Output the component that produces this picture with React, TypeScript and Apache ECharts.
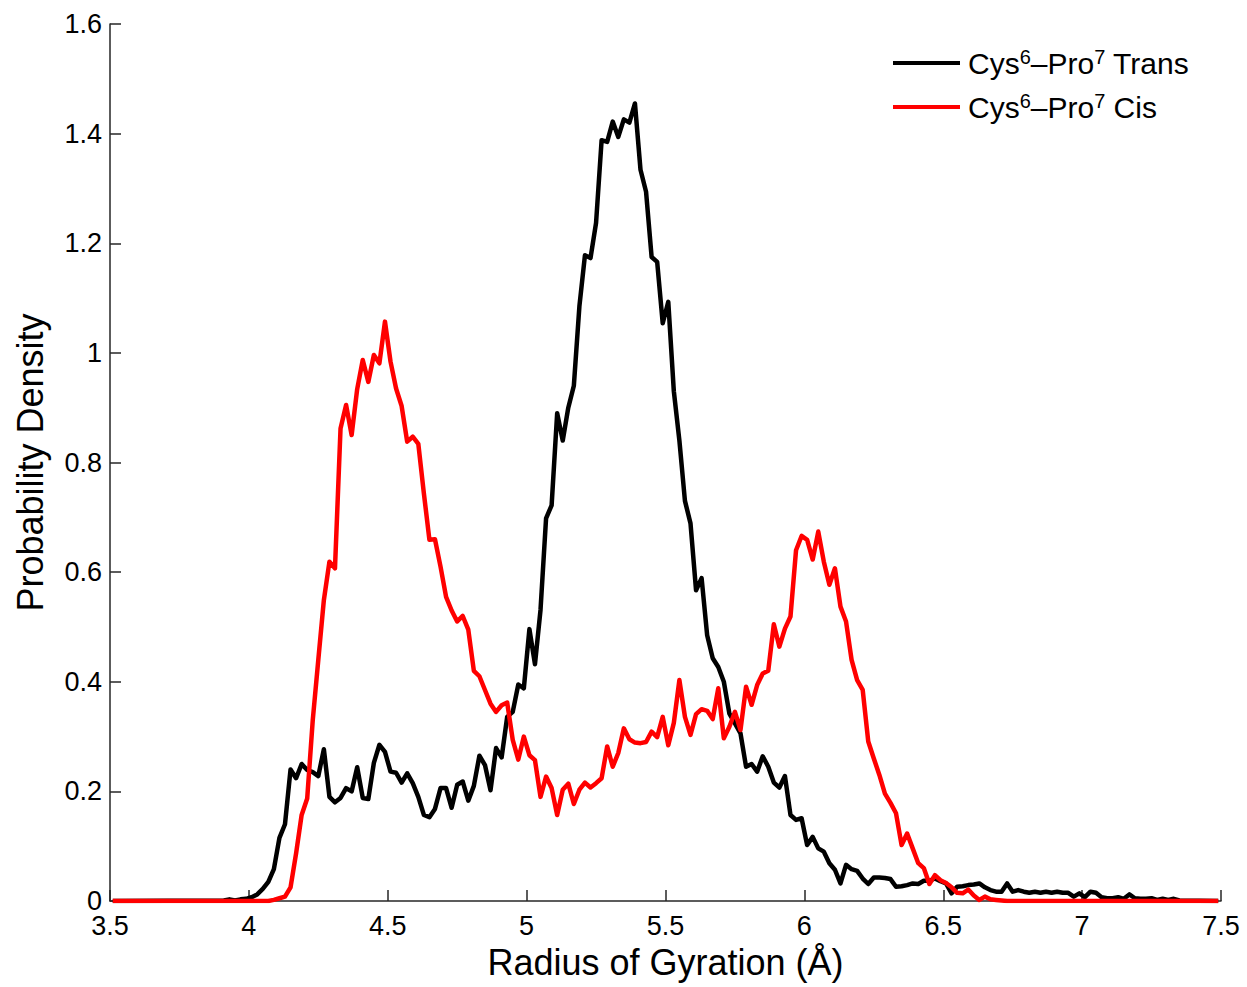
import React, { useEffect, useRef } from "react";
import * as echarts from "echarts";

// Bin centres: first value of each list sits at its start x, step 0.02 Å
const BIN_STEP = 0.02;
const X_MIN = 3.5;
const X_MAX = 7.5;
const X_TICKS = [3.5, 4, 4.5, 5, 5.5, 6, 6.5, 7, 7.5];
const Y_TICKS = [0, 0.2, 0.4, 0.6, 0.8, 1, 1.2, 1.4, 1.6];

const transStart = 3.91;
const transValues = [
  0.001, 0.003, 0.001, 0.003, 0.004, 0.007, 0.012, 0.022, 0.035, 0.058,
  0.115, 0.14, 0.24, 0.224, 0.25, 0.239, 0.235, 0.228, 0.277, 0.19,
  0.18, 0.188, 0.206, 0.2, 0.244, 0.188, 0.186, 0.252, 0.285, 0.272,
  0.236, 0.234, 0.216, 0.233, 0.215, 0.19, 0.157, 0.153, 0.168, 0.206,
  0.206, 0.17, 0.212, 0.218, 0.183, 0.21, 0.265, 0.248, 0.202, 0.279,
  0.262, 0.336, 0.345, 0.395, 0.388, 0.496, 0.432, 0.531, 0.698, 0.722,
  0.89, 0.84, 0.9, 0.94, 1.085, 1.178, 1.173, 1.237, 1.388, 1.385,
  1.422, 1.394, 1.426, 1.42, 1.455, 1.334, 1.294, 1.175, 1.166, 1.054,
  1.093, 0.93, 0.84, 0.73, 0.689, 0.567, 0.589, 0.485, 0.443, 0.427,
  0.4, 0.342, 0.324, 0.306, 0.245, 0.25, 0.236, 0.264, 0.245, 0.216,
  0.207, 0.228, 0.157, 0.148, 0.151, 0.102, 0.117, 0.096, 0.09, 0.069,
  0.057, 0.032, 0.066, 0.058, 0.055, 0.041, 0.031, 0.043, 0.043, 0.042,
  0.04, 0.026, 0.027, 0.029, 0.032, 0.031, 0.037, 0.037, 0.041, 0.036,
  0.032, 0.014, 0.026, 0.027, 0.029, 0.03, 0.032, 0.025, 0.02, 0.017,
  0.017, 0.032, 0.017, 0.02, 0.017, 0.015, 0.017, 0.015, 0.017, 0.015,
  0.017, 0.015, 0.015, 0.008, 0.014, 0.007, 0.017, 0.015, 0.007, 0.005,
  0.005, 0.007, 0.004, 0.012, 0.005, 0.004, 0.004, 0.005, 0.002, 0.004,
  0.002, 0.004, 0.001,
];

const cisStart = 4.07;
const cisValues = [
  0, 0.002, 0.005, 0.008, 0.025, 0.087, 0.157, 0.187, 0.33, 0.44,
  0.549, 0.619, 0.607, 0.862, 0.905, 0.85, 0.934, 0.987, 0.947, 0.996,
  0.981, 1.057, 0.984, 0.935, 0.903, 0.838, 0.847, 0.834, 0.744, 0.659,
  0.66, 0.61, 0.555, 0.53, 0.51, 0.52, 0.495, 0.42, 0.41, 0.385,
  0.36, 0.345, 0.357, 0.362, 0.294, 0.258, 0.3, 0.266, 0.257, 0.19,
  0.227, 0.206, 0.157, 0.203, 0.214, 0.177, 0.203, 0.216, 0.207, 0.215,
  0.224, 0.282, 0.245, 0.27, 0.315, 0.295, 0.289, 0.288, 0.29, 0.309,
  0.299, 0.336, 0.284, 0.325, 0.403, 0.336, 0.303, 0.341, 0.35, 0.347,
  0.332, 0.388, 0.297, 0.318, 0.345, 0.312, 0.391, 0.358, 0.394, 0.415,
  0.42, 0.505, 0.464, 0.497, 0.519, 0.64, 0.666, 0.659, 0.623, 0.674,
  0.619, 0.577, 0.607, 0.537, 0.51, 0.44, 0.403, 0.385, 0.291, 0.26,
  0.23, 0.196, 0.179, 0.16, 0.102, 0.123, 0.096, 0.069, 0.06, 0.031,
  0.047, 0.038, 0.033, 0.025, 0.015, 0.014, 0.021, 0.01, 0.002, 0.008,
  0.003, 0.002, 0.001, 0,
];

const SERIES_NAMES = ["Cys6–Pro7 Trans", "Cys6–Pro7 Cis"];
const LEGEND_RICH = [
  "{a|Cys}{s|6}{a|–Pro}{s|7}{a| Trans}",
  "{a|Cys}{s|6}{a|–Pro}{s|7}{a| Cis}",
];
const X_TITLE = "Radius of Gyration (Å)";
const Y_TITLE = "Probability Density";

function toPairs(start: number, values: number[]): [number, number][] {
  const pts: [number, number][] = [[X_MIN + BIN_STEP / 2, 0]];
  values.forEach((v, i) => {
    pts.push([+(start + BIN_STEP * i).toFixed(2), v]);
  });
  pts.push([X_MAX - BIN_STEP / 2, 0]);
  return pts;
}

const FONT = "'Liberation Sans', Arial, Helvetica, sans-serif";

export default function App() {
  const ref = useRef<HTMLDivElement>(null);
  useEffect(() => {
    if (!ref.current) return;
    const chart = echarts.init(ref.current, undefined, { renderer: "svg" });
    const axisColor = "#262626";
    chart.setOption({
      animation: false,
      backgroundColor: "#ffffff",
      textStyle: { fontFamily: FONT },
      grid: { left: 110, top: 24, width: 1111, height: 877, containLabel: false },
      legend: {
        orient: "vertical",
        left: 893,
        top: 47,
        padding: 0,
        icon: "rect",
        itemWidth: 67,
        itemHeight: 4,
        itemGap: 13,
        data: SERIES_NAMES,
        formatter: (name: string) => LEGEND_RICH[SERIES_NAMES.indexOf(name)],
        textStyle: {
          fontFamily: FONT,
          color: "#000",
          padding: [0, 0, 0, 3],
          rich: {
            a: { fontSize: 30, lineHeight: 32, fontFamily: FONT, color: "#000" },
            s: { fontSize: 20, lineHeight: 20, verticalAlign: "top", fontFamily: FONT, color: "#000" },
          },
        },
      },
      xAxis: {
        type: "value",
        min: X_MIN,
        max: X_MAX,
        interval: 0.5,
        name: X_TITLE,
        nameLocation: "middle",
        nameGap: 41,
        nameTextStyle: { fontSize: 36, color: "#000", fontFamily: FONT, verticalAlign: "top" },
        axisLine: { show: true, lineStyle: { color: axisColor, width: 1.5 } },
        axisTick: { show: true, inside: true, length: 11, lineStyle: { color: axisColor, width: 1.5 } },
        axisLabel: {
          fontSize: 27,
          lineHeight: 22,
          color: "#000",
          margin: 14,
          fontFamily: FONT,
          formatter: (v: number) => (X_TICKS.includes(v) ? String(v) : ""),
          showMinLabel: true,
          showMaxLabel: true,
        },
        splitLine: { show: false },
      },
      yAxis: {
        type: "value",
        min: 0,
        max: 1.6,
        interval: 0.2,
        name: Y_TITLE,
        nameLocation: "middle",
        nameGap: 62,
        nameTextStyle: { fontSize: 36, color: "#000", fontFamily: FONT },
        axisLine: { show: true, lineStyle: { color: axisColor, width: 1.5 } },
        axisTick: { show: true, inside: true, length: 11, lineStyle: { color: axisColor, width: 1.5 } },
        axisLabel: {
          fontSize: 27,
          lineHeight: 22,
          color: "#000",
          margin: 8,
          padding: [0, 0, 4, 0],
          fontFamily: FONT,
          formatter: (v: number) => {
            const t = Y_TICKS.find((k) => Math.abs(k - v) < 1e-9);
            return t === undefined ? "" : String(t);
          },
        },
        splitLine: { show: false },
      },
      series: [
        {
          name: SERIES_NAMES[0],
          type: "line",
          data: toPairs(transStart, transValues),
          symbol: "none",
          lineStyle: { color: "#000000", width: 4.5, join: "round" },
          itemStyle: { color: "#000000" },
          z: 2,
        },
        {
          name: SERIES_NAMES[1],
          type: "line",
          data: toPairs(cisStart, cisValues),
          symbol: "none",
          lineStyle: { color: "#ff0000", width: 4.5, join: "round" },
          itemStyle: { color: "#ff0000" },
          z: 3,
        },
      ],
    });
    return () => chart.dispose();
  }, []);
  return (
    <div
      ref={ref}
      style={{ position: "fixed", left: 0, top: 0, width: 1247, height: 987, background: "#fff" }}
    />
  );
}
